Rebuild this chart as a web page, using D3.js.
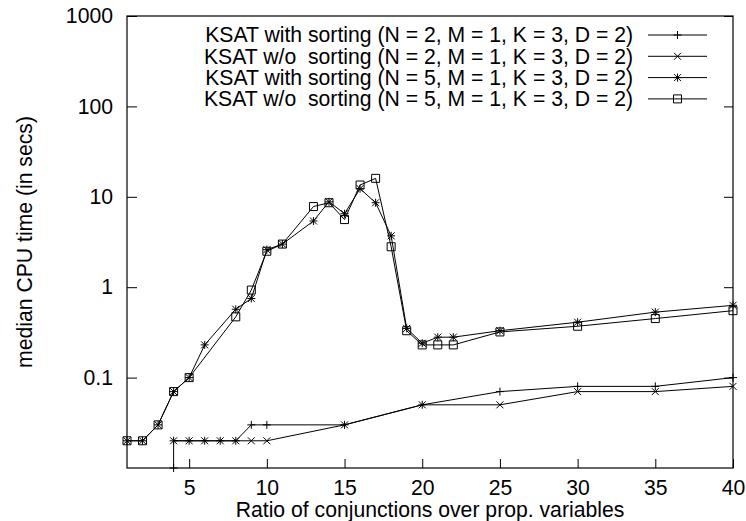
<!DOCTYPE html>
<html>
<head>
<meta charset="utf-8">
<script src="https://cdn.jsdelivr.net/npm/d3@7"></script>
<style>
  body { margin: 0; background: #fff; }
  svg { display: block; }
  text { font-family: "Liberation Sans", Arial, sans-serif; fill: #000; }
</style>
</head>
<body>
<div id="chart"></div>
<script>
// series
const s1x = [4, 4, 5, 6, 7, 8, 9, 10, 15, 20, 25, 30, 35, 40];
const s1y = [0.01, 0.02, 0.02, 0.02, 0.02, 0.02, 0.03, 0.03, 0.03, 0.05, 0.07, 0.08, 0.08, 0.1];

const s2x = [4, 5, 6, 7, 8, 9, 10, 15, 20, 25, 30, 35, 40];
const s2y = [0.02, 0.02, 0.02, 0.02, 0.02, 0.02, 0.02, 0.03, 0.05, 0.05, 0.07, 0.07, 0.08];

const s3x = [1, 2, 3, 4, 5, 6, 8, 9, 10, 11, 13, 14, 15, 16, 17, 18, 19, 20, 21, 22, 25, 30, 35, 40];
const s3y = [0.02, 0.02, 0.03, 0.07, 0.1, 0.23, 0.57, 0.75, 2.6, 3.0, 5.4, 8.8, 6.5, 12.3, 8.6, 3.7, 0.35, 0.24, 0.28, 0.28, 0.33, 0.41, 0.53, 0.63];

const s4x = [1, 2, 3, 4, 5, 8, 9, 10, 11, 13, 14, 15, 16, 17, 18, 19, 20, 21, 22, 25, 30, 35, 40];
const s4y = [0.02, 0.02, 0.03, 0.07, 0.1, 0.47, 0.93, 2.5, 3.0, 7.8, 8.6, 5.6, 13.5, 16, 2.8, 0.33, 0.23, 0.23, 0.23, 0.32, 0.37, 0.45, 0.55];

const seriesNames = [
  "KSAT with sorting (N = 2, M = 1, K = 3, D = 2)",
  "KSAT w/o  sorting (N = 2, M = 1, K = 3, D = 2)",
  "KSAT with sorting (N = 5, M = 1, K = 3, D = 2)",
  "KSAT w/o  sorting (N = 5, M = 1, K = 3, D = 2)"
];
const seriesMarks = ["plus", "cross", "star", "box"];

const xTicks = [5, 10, 15, 20, 25, 30, 35, 40];
const yTicks = [0.1, 1, 10, 100, 1000];
const yTickLabels = ["0.1", "1", "10", "100", "1000"];

const xTitle = "Ratio of conjunctions over prop. variables";
const yTitle = "median CPU time (in secs)";

const width = 746, height = 521;
const margin = {top: 16, right: 13, bottom: 53, left: 127};
const fontSize = 21.2;

const series = [[s1x, s1y], [s2x, s2y], [s3x, s3y], [s4x, s4y]].map((d, i) => ({
  name: seriesNames[i],
  mark: seriesMarks[i],
  values: d[0].map((x, j) => ({x: x, y: d[1][j]}))
}));

const x = d3.scaleLinear().domain([1, 40]).range([margin.left, width - margin.right]);
const y = d3.scaleLog().domain([0.01, 1000]).range([height - margin.bottom, margin.top]);

const svg = d3.select("#chart").append("svg")
    .attr("width", width)
    .attr("height", height)
    .style("font-size", fontSize + "px");

// axes with inward ticks
const gx = svg.append("g")
    .attr("transform", `translate(0,${height - margin.bottom})`)
    .call(d3.axisBottom(x).tickValues(xTicks).tickSizeInner(-9).tickSizeOuter(0).tickPadding(12));

const gy = svg.append("g")
    .attr("transform", `translate(${margin.left},0)`)
    .call(d3.axisLeft(y).tickValues(yTicks).tickFormat((d, i) => yTickLabels[i])
      .tickSizeInner(-10).tickSizeOuter(0).tickPadding(14));

const gyr = svg.append("g")
    .attr("transform", `translate(${width - margin.right},0)`)
    .call(d3.axisRight(y).tickValues(yTicks).tickFormat("").tickSizeInner(-9).tickSizeOuter(0));

[gx, gy, gyr].forEach(g => {
  g.select(".domain").remove();
  g.selectAll("line").attr("stroke", "#000");
  g.selectAll("text").style("font-size", fontSize + "px").attr("font-family", "Liberation Sans, Arial, sans-serif");
});

// frame
svg.append("rect")
    .attr("x", margin.left)
    .attr("y", margin.top)
    .attr("width", width - margin.left - margin.right)
    .attr("height", height - margin.top - margin.bottom)
    .attr("fill", "none")
    .attr("stroke", "#000")
    .attr("stroke-width", 1.2);

// titles
svg.append("text")
    .attr("x", (margin.left + width - margin.right) / 2)
    .attr("y", 517)
    .attr("text-anchor", "middle")
    .text(xTitle);

svg.append("text")
    .attr("transform", `translate(32,${(margin.top + height - margin.bottom) / 2}) rotate(-90)`)
    .attr("text-anchor", "middle")
    .text(yTitle);

const markPath = {
  plus: "M-4,0H4M0,-4V4",
  cross: "M-3.5,-3.5L3.5,3.5M-3.5,3.5L3.5,-3.5",
  star: "M-4,0H4M0,-4V4M-3.5,-3.5L3.5,3.5M-3.5,3.5L3.5,-3.5",
  box: "M-4,-4H4V4H-4Z"
};

const line = d3.line().x(d => x(d.x)).y(d => y(d.y));

const gSeries = svg.append("g")
    .attr("fill", "none")
    .attr("stroke", "#000")
    .attr("stroke-width", 1);

series.forEach(s => {
  gSeries.append("path")
      .attr("d", line(s.values));

  gSeries.selectAll(null)
    .data(s.values)
    .join("path")
      .attr("transform", d => `translate(${x(d.x)},${y(d.y)})`)
      .attr("d", markPath[s.mark]);
});

// legend
const legend = svg.append("g");
const legendRight = 633, sampleX0 = 648, sampleX1 = 707, legendTop = 35, rowH = 21.3;

series.forEach((s, i) => {
  const ly = legendTop + i * rowH;
  legend.append("text")
      .attr("x", legendRight)
      .attr("y", ly)
      .attr("dy", "0.35em")
      .attr("text-anchor", "end")
      .attr("xml:space", "preserve")
      .style("white-space", "pre")
      .text(s.name);
  legend.append("line")
      .attr("x1", sampleX0).attr("x2", sampleX1)
      .attr("y1", ly).attr("y2", ly)
      .attr("stroke", "#000");
  legend.append("path")
      .attr("transform", `translate(${(sampleX0 + sampleX1) / 2},${ly})`)
      .attr("d", markPath[s.mark])
      .attr("fill", "none")
      .attr("stroke", "#000");
});
</script>
</body>
</html>
